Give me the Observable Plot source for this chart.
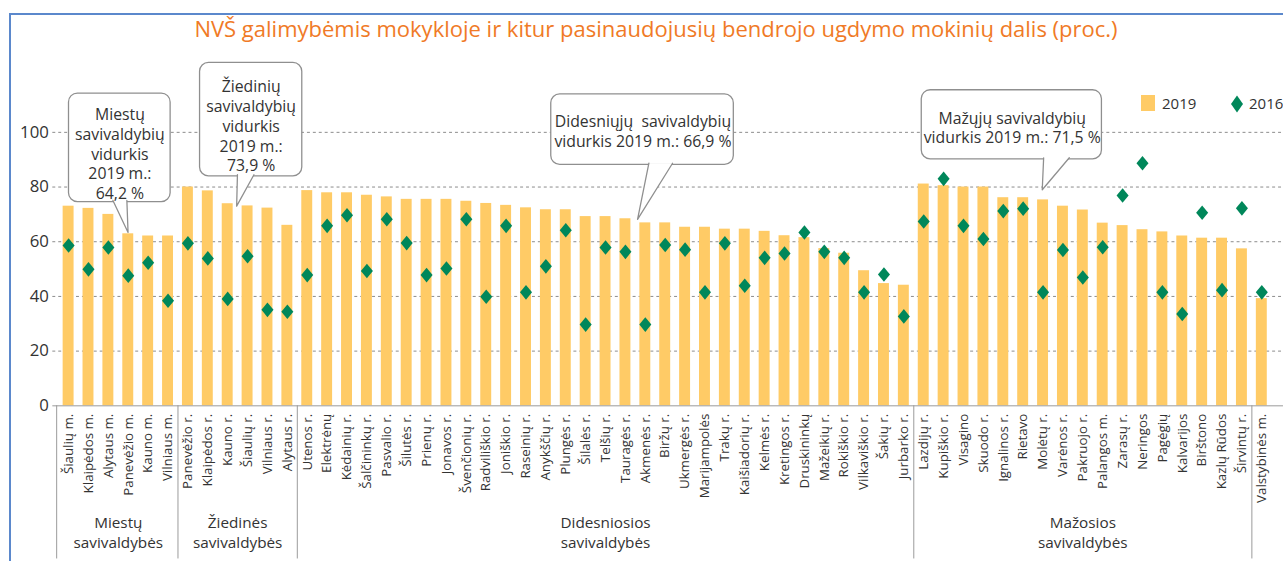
<!DOCTYPE html>
<html>
<head>
<meta charset="utf-8">
<script src="https://cdn.jsdelivr.net/npm/d3@7"></script>
<script src="https://cdn.jsdelivr.net/npm/@observablehq/plot@0.6"></script>
<style>
  html, body { margin: 0; padding: 0; overflow: hidden; background: #fff; width: 1283px; height: 561px; }
  #wrap { position: relative; width: 1283px; height: 561px; overflow: hidden; font-family: "Open Sans", sans-serif; }
  #frame { position: absolute; left: 9px; top: 13px; width: 1300px; height: 600px; border-top: 2px solid #5b88cc; border-left: 2px solid #5b88cc; }
  #chart { position: absolute; left: 0; top: 0; }
  #title { position: absolute; left: 0; width: 1312px; top: 13px; text-align: center; color: #f07a26; font-size: 22px; line-height: 30px; white-space: nowrap; }
  .leg { position: absolute; font-size: 15px; color: #333; line-height: 16px; }
</style>
</head>
<body>
<div id="wrap">
  <div id="frame"></div>
  <div id="chart"></div>
  <div id="title">NVŠ galimybėmis mokykloje ir kitur pasinaudojusių bendrojo ugdymo mokinių dalis (proc.)</div>
  <div class="leg" style="left:1141px; top:95px; width:14px; height:16px; background:#ffcb66;"></div>
  <div class="leg" style="left:1162px; top:95px;">2019</div>
  <svg class="leg" style="left:1229px; top:95px;" width="16" height="18"><path d="M8,0.5L14,9L8,17.5L2,9Z" fill="#00875a"/></svg>
  <div class="leg" style="left:1249px; top:95px;">2016</div>
</div>
<script>
// ---- data ----
const names = [
  "Šiaulių m.", "Klaipėdos m.", "Alytaus m.", "Panevėžio m.", "Kauno m.", "Vilniaus m.",
  "Panevėžio r.", "Klaipėdos r.", "Kauno r.", "Šiaulių r.", "Vilniaus r.", "Alytaus r.",
  "Utenos r.", "Elektrėnų", "Kėdainių r.", "Šalčininkų r.", "Pasvalio r.", "Šilutės r.", "Prienų r.",
  "Jonavos r.", "Švenčionių r.", "Radviliškio r.", "Joniškio r.", "Raseinių r.", "Anykščių r.",
  "Plungės r.", "Šilalės r.", "Telšių r.", "Tauragės r.", "Akmenės r.", "Biržų r.", "Ukmergės r.",
  "Marijampolės", "Trakų r.", "Kaišiadorių r.", "Kelmės r.", "Kretingos r.", "Druskininkų",
  "Mažeikių r.", "Rokiškio r.", "Vilkaviškio r.", "Šakių r.", "Jurbarko r.",
  "Lazdijų r.", "Kupiškio r.", "Visagino", "Skuodo r.", "Ignalinos r.", "Rietavo", "Molėtų r.",
  "Varėnos r.", "Pakruojo r.", "Palangos m.", "Zarasų r.", "Neringos", "Pagėgių", "Kalvarijos",
  "Birštono", "Kazlų Rūdos", "Širvintų r.",
  "Valstybinės m."
];
const values2019 = [
  73.0, 72.2, 70.0, 62.9, 62.1, 62.1,
  80.0, 78.6, 73.9, 73.1, 72.3, 66.0,
  78.7, 77.9, 77.9, 77.0, 76.4, 75.5, 75.5, 75.5, 74.8, 74.0, 73.3, 72.4, 71.7, 71.7,
  69.2, 69.2, 68.4, 66.9, 66.9, 65.3, 65.3, 64.6, 64.6, 63.8, 62.2, 61.5, 57.5, 55.8,
  49.4, 44.7, 44.1,
  81.1, 80.5, 80.0, 80.0, 76.1, 76.1, 75.3, 73.0, 71.6, 66.8, 65.9, 64.4, 63.6, 62.1,
  61.3, 61.3, 57.4,
  39.2
];
const values2016 = [
  58.6, 49.9, 57.9, 47.6, 52.3, 38.4,
  59.4, 53.9, 39.1, 54.7, 35.1, 34.4,
  47.8, 65.8, 69.7, 49.3, 68.2, 59.5, 47.8, 50.2, 68.2, 39.9, 65.8, 41.5, 51.0, 64.2,
  29.7, 57.9, 56.3, 29.7, 58.8, 57.1, 41.5, 59.4, 43.9, 54.1, 55.7, 63.4, 56.3, 54.1,
  41.5, 48.0, 32.7,
  67.4, 83.0, 65.8, 61.0, 71.2, 72.1, 41.5, 57.0, 46.9, 58.0, 76.9, 88.7, 41.5, 33.6,
  70.6, 42.3, 72.2,
  41.5
];
const groupLabels = ["Miestų\nsavivaldybės", "Žiedinės\nsavivaldybės", "Didesniosios\nsavivaldybės", "Mažosios\nsavivaldybės", ""];
const groupSizes = [6, 6, 31, 17, 1];
const yTicks = [0, 20, 40, 60, 80, 100];

const calloutTexts = [
  "Miestų\nsavivaldybių\nvidurkis\n2019 m.:\n64,2 %",
  "Žiedinių\nsavivaldybių\nvidurkis\n2019 m.:\n73,9 %",
  "Didesniųjų  savivaldybių\nvidurkis 2019 m.: 66,9 %",
  "Mažųjų savivaldybių\nvidurkis 2019 m.: 71,5 %"
];

// ---- annotation layout (in data units: category index / percent) ----
const calloutBoxes = [
  {x1: 0.02, x2: 5.13, y1: 74.5, y2: 114.2, tx: 2.58, ty: 92.3, p: [[2.23, 75.1], [2.99, 63.4], [2.93, 75.1]]},
  {x1: 6.61, x2: 11.75, y1: 83.9, y2: 125.4, tx: 9.18, ty: 102.5, p: [[8.49, 84.5], [8.45, 73.0], [9.32, 84.5]]},
  {x1: 24.27, x2: 33.45, y1: 88.1, y2: 113.9, tx: 28.88, ty: 100.7, p: [[29.18, 88.7], [28.61, 68.2], [30.37, 88.7]]},
  {x1: 42.9, x2: 51.96, y1: 90.1, y2: 115.4, tx: 47.45, ty: 101.9, p: [[49.03, 90.7], [48.96, 79.0], [50.32, 90.7]]}
];

// ---- derived tables ----
const data = names.map((n, i) => ({i, name: n, v2019: values2019[i], v2016: values2016[i]}));
const groups = [];
let start = 0;
groupLabels.forEach((g, k) => {
  groups.push({label: g, first: start, last: start + groupSizes[k] - 1});
  start += groupSizes[k];
});
const separators = [-0.6, ...groups.slice(0, -1).map(g => g.last + 0.5)];
const callouts = calloutBoxes.map((b, k) => ({...b, text: calloutTexts[k], id: k}));
const pointerPts = callouts.flatMap(c => c.p.map(([x, y]) => ({id: c.id, x, y})));

const diamond = {
  draw(ctx) {
    ctx.moveTo(0, -7.4); ctx.lineTo(6.1, 0); ctx.lineTo(0, 7.4); ctx.lineTo(-6.1, 0); ctx.closePath();
  }
};
const halfBar = 0.275;

const chart = Plot.plot({
  width: 1300,
  height: 561,
  marginTop: 133.6,
  marginBottom: 150.3,
  marginLeft: 53,
  marginRight: 0,
  style: {fontFamily: "'Open Sans', sans-serif", color: "#333", background: "transparent", overflow: "visible"},
  x: {type: "linear", domain: [-0.794, 61.09]},
  y: {domain: [0, 100]},
  marks: [
    Plot.gridY(yTicks.filter(d => d > 0), {stroke: "#8a8a8a", strokeOpacity: 1, strokeDasharray: "3,3"}),
    Plot.rect(data, {x1: d => d.i - halfBar, x2: d => d.i + halfBar, y1: 0, y2: "v2019", fill: "#ffcb66"}),
    Plot.ruleY([0], {stroke: "#999"}),
    Plot.ruleX(separators, {y1: 0, y2: -56, stroke: "#999"}),
    Plot.dot(data, {x: "i", y: "v2016", symbol: diamond, fill: "#00875a", r: 5}),
    Plot.axisY({ticks: yTicks, tickSize: 0, tickPadding: 4, fontSize: 17, label: null, fill: "#333"}),
    Plot.axisX({ticks: data.map(d => d.i), tickFormat: i => names[i], tickRotate: -90, tickSize: 0, tickPadding: 8, fontSize: 13.5, label: null, fill: "#333"}),
    Plot.text(groups.filter(g => g.label), {x: g => (g.first + g.last) / 2, y: -46.1, text: "label", fontSize: 15.5, lineHeight: 1.26, lineAnchor: "middle", fill: "#333"}),
    Plot.rect(callouts, {x1: "x1", x2: "x2", y1: "y1", y2: "y2", fill: "white", stroke: "#8f8f8f", strokeWidth: 1.3, rx: 9}),
    Plot.line(pointerPts, {x: "x", y: "y", z: "id", fill: "white", stroke: "#8f8f8f", strokeWidth: 1.3, curve: "linear"}),
    Plot.text(callouts, {x: "tx", y: "ty", text: "text", fontSize: 16, lineHeight: 1.25, lineAnchor: "middle", fill: "#333"})
  ]
});
document.getElementById("chart").appendChild(chart);
</script>
</body>
</html>
